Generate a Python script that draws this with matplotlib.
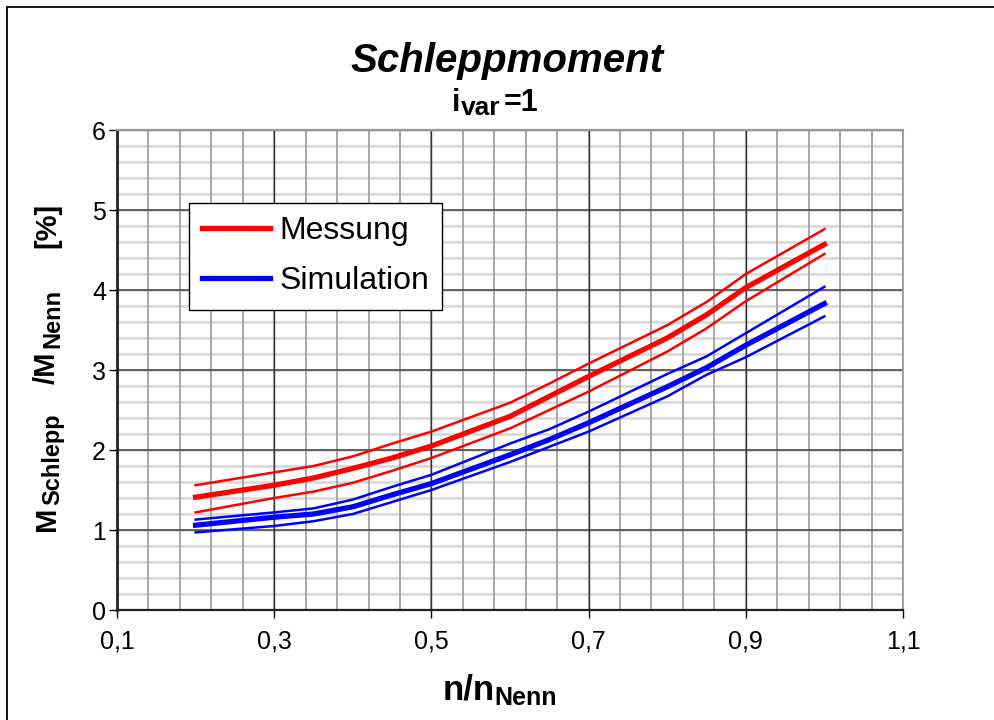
import matplotlib
matplotlib.use("Agg")
import numpy as np
import matplotlib.pyplot as plt
from matplotlib.patches import Rectangle
from matplotlib.ticker import FixedLocator

plt.rcParams['font.family'] = ['Liberation Sans', 'DejaVu Sans']

# speed ratio n/n_Nenn
n_ratio = [0.2, 0.3, 0.35, 0.4, 0.45, 0.5, 0.6, 0.65, 0.7, 0.8, 0.85, 0.9, 1.0]

# measured drag torque [% of nominal torque]: mean and band
mess_mean = [1.41, 1.56, 1.65, 1.77, 1.90, 2.05, 2.42, 2.67, 2.92, 3.40, 3.69, 4.03, 4.57]
mess_upper = [1.56, 1.72, 1.80, 1.92, 2.08, 2.23, 2.59, 2.83, 3.08, 3.56, 3.85, 4.20, 4.76]
mess_lower = [1.22, 1.40, 1.48, 1.59, 1.74, 1.90, 2.27, 2.50, 2.73, 3.23, 3.52, 3.86, 4.45]

# simulated drag torque [% of nominal torque]: mean and band
sim_mean = [1.06, 1.16, 1.20, 1.29, 1.44, 1.58, 1.94, 2.13, 2.34, 2.79, 3.03, 3.31, 3.83]
sim_upper = [1.13, 1.22, 1.27, 1.38, 1.54, 1.69, 2.08, 2.26, 2.48, 2.95, 3.17, 3.46, 4.04]
sim_lower = [0.97, 1.05, 1.11, 1.20, 1.35, 1.50, 1.85, 2.04, 2.23, 2.67, 2.94, 3.16, 3.67]

x_ticks = [0.1, 0.3, 0.5, 0.7, 0.9, 1.1]
x_tick_labels = ['0,1', '0,3', '0,5', '0,7', '0,9', '1,1']
y_ticks = [0, 1, 2, 3, 4, 5, 6]
y_tick_labels = ['0', '1', '2', '3', '4', '5', '6']

W, H = 994, 720
fig = plt.figure(figsize=(W / 100, H / 100), dpi=100)
ax = fig.add_axes([117 / W, 110 / H, 786 / W, 480 / H])

ax.set_xlim(0.1, 1.1)
ax.set_ylim(0, 6)

ax.xaxis.set_major_locator(FixedLocator(x_ticks))
ax.yaxis.set_major_locator(FixedLocator(y_ticks))
ax.set_xticklabels(x_tick_labels)
ax.set_yticklabels(y_tick_labels)

# grid: fine lines first, heavy lines on top
x_fine = np.arange(x_ticks[0], x_ticks[-1] + 1e-9, 0.04)
y_fine = np.arange(y_ticks[0], y_ticks[-1] + 1e-9, 0.2)
ax.hlines(y_fine, 0, 1, transform=ax.get_yaxis_transform(),
          color='#d6d6d6', lw=1.8, zorder=0.3)
ax.vlines(x_fine, 0, 1, transform=ax.get_xaxis_transform(),
          color='#a6a6a6', lw=1.4, zorder=0.4)
ax.hlines(y_ticks, 0, 1, transform=ax.get_yaxis_transform(),
          color='#4d4d4d', lw=1.2, zorder=0.5)
ax.vlines(x_ticks, 0, 1, transform=ax.get_xaxis_transform(),
          color='#333333', lw=1.0, zorder=0.6)

ax.tick_params(which='major', direction='out', length=6, width=1.0,
               color='black', labelsize=18)
ax.tick_params(axis='x', which='major', pad=8)
ax.tick_params(axis='y', which='major', pad=2)

ax.spines['left'].set_color('#222222')
ax.spines['left'].set_linewidth(2.0)
ax.spines['bottom'].set_color('#222222')
ax.spines['bottom'].set_linewidth(1.6)
ax.spines['top'].set_color('#999999')
ax.spines['top'].set_linewidth(1.6)
ax.spines['right'].set_color('#999999')
ax.spines['right'].set_linewidth(1.2)

red = '#ff0000'
blue = '#0000ff'
ax.plot(n_ratio, mess_upper, color=red, lw=1.8, solid_joinstyle='round')
ax.plot(n_ratio, mess_lower, color=red, lw=1.8, solid_joinstyle='round')
ax.plot(n_ratio, sim_upper, color=blue, lw=1.8, solid_joinstyle='round')
ax.plot(n_ratio, sim_lower, color=blue, lw=1.8, solid_joinstyle='round')
l_mess, = ax.plot(n_ratio, mess_mean, color=red, lw=3.8, solid_joinstyle='round',
                  label='Messung')
l_sim, = ax.plot(n_ratio, sim_mean, color=blue, lw=3.8, solid_joinstyle='round',
                 label='Simulation')

leg = ax.legend(handles=[l_mess, l_sim], loc='upper left',
                bbox_to_anchor=((189 - 117) / 786, (610 - 203) / 480),
                borderaxespad=0, fontsize=23, frameon=True, fancybox=False,
                edgecolor='black', framealpha=1.0, handlelength=2.1,
                handletextpad=0.3, borderpad=0.42, labelspacing=0.62)
leg.get_frame().set_linewidth(1.0)
leg.set_zorder(5)


def put(text, x_px, y_px, size, rot=0, weight='bold', style='normal'):
    """Place a text piece with its baseline-left corner at a pixel position."""
    fig.text(x_px / W, 1 - y_px / H, text, fontsize=size, fontweight=weight,
             style=style, rotation=rot, rotation_mode='anchor',
             ha='left', va='baseline')


# title and subtitle
fig.text(507 / W, 1 - 72 / H, 'Schleppmoment', fontsize=29, fontweight='bold',
         style='italic', ha='center', va='baseline')
put('i', 452, 111, 22)
put('var', 461, 115, 19)
put('=1', 504, 111, 22)

# x axis label
put('n/n', 443, 700, 25)
put('Nenn', 494, 705, 18)

# y axis label, written bottom to top
put('M', 55, 531, 21, rot=90)
put('Schlepp', 59, 505, 17, rot=90)
put('/M', 55, 384, 21, rot=90)
put('Nenn', 59, 348, 17, rot=90)
put('[%]', 55, 248, 21, rot=90)

fig.patches.append(Rectangle((7 / W, -0.5), 2.0, 1.5 - 7 / H,
                             transform=fig.transFigure, fill=False,
                             edgecolor='black', lw=1.3))

fig.savefig('out.png', dpi=100)
